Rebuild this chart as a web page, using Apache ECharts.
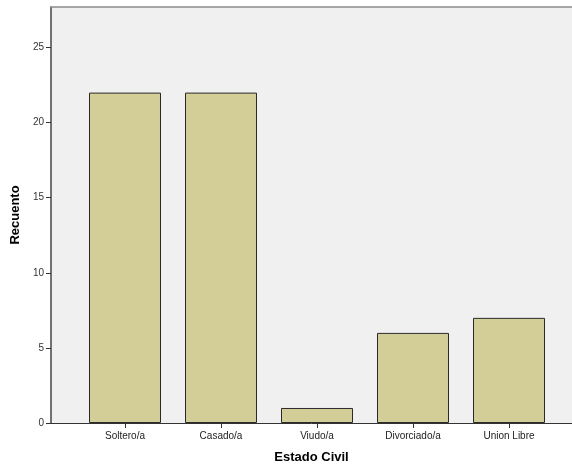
<!DOCTYPE html>
<html><head><meta charset="utf-8">
<script src="https://cdn.jsdelivr.net/npm/echarts@6/dist/echarts.min.js"></script>
<style>html,body{margin:0;padding:0;background:#fff}#c{width:572px;height:465px}</style>
</head><body><div id="c"></div>
<script>
const categories = ['Soltero/a', 'Casado/a', 'Viudo/a', 'Divorciado/a', 'Union Libre'];
const counts = [22, 22, 1, 6, 7];
const yMin = 0, yMax = 27.7, yInterval = 5;
const xTitle = 'Estado Civil';
const yTitle = 'Recuento';

const chart = echarts.init(document.getElementById('c'), null, {renderer: 'canvas'});
const font = 'Arial, "Liberation Sans", sans-serif';
chart.setOption({
  animation: false,
  grid: [
    {left: 77, right: 15, top: 7, bottom: 42, show: false, containLabel: false, outerBoundsMode: 'none'},
    {left: 51, right: 0, top: 7, bottom: 42, show: true, backgroundColor: '#f0f0f0', borderWidth: 0, containLabel: false, outerBoundsMode: 'none'}
  ],
  xAxis: [
    {type: 'category', gridIndex: 0, data: categories, boundaryGap: true,
     axisLine: {show: false},
     axisTick: {show: true, alignWithLabel: true, length: 5, lineStyle: {color: '#333'}},
     axisLabel: {color: '#222', fontSize: 10, fontFamily: font, margin: 8}},
    {type: 'value', gridIndex: 1, min: 0, max: 1, position: 'bottom',
     axisLine: {show: true, lineStyle: {color: '#333', width: 1}},
     axisTick: {show: false}, axisLabel: {show: false}, splitLine: {show: false},
     name: xTitle, nameLocation: 'middle', nameGap: 28,
     nameTextStyle: {fontSize: 13, fontWeight: 'bold', color: '#000', fontFamily: font}},
    {type: 'value', gridIndex: 1, min: 0, max: 1, position: 'top',
     axisLine: {show: true, lineStyle: {color: '#8a8a8a', width: 1.5}},
     axisTick: {show: false}, axisLabel: {show: false}, splitLine: {show: false}}
  ],
  yAxis: [
    {type: 'value', gridIndex: 0, min: yMin, max: yMax, interval: yInterval, show: false, splitLine: {show: false}},
    {type: 'value', gridIndex: 1, min: yMin, max: yMax, interval: yInterval,
     axisLine: {show: true, lineStyle: {color: '#444', width: 1.5}},
     axisTick: {show: true, inside: false, length: 5, lineStyle: {color: '#333'}},
     axisLabel: {color: '#333', fontSize: 10, fontFamily: font, margin: 7,
                 showMaxLabel: false},
     splitLine: {show: false},
     name: yTitle, nameLocation: 'middle', nameGap: 26, nameRotate: 90,
     nameTextStyle: {fontSize: 13, fontWeight: 'bold', color: '#000', fontFamily: font}}
  ],
  series: [{
    type: 'bar', xAxisIndex: 0, yAxisIndex: 0, data: counts, barWidth: '75%',
    itemStyle: {color: '#d3ce97', borderColor: '#2a2a2a', borderWidth: 1}
  }]
});
</script></body></html>
